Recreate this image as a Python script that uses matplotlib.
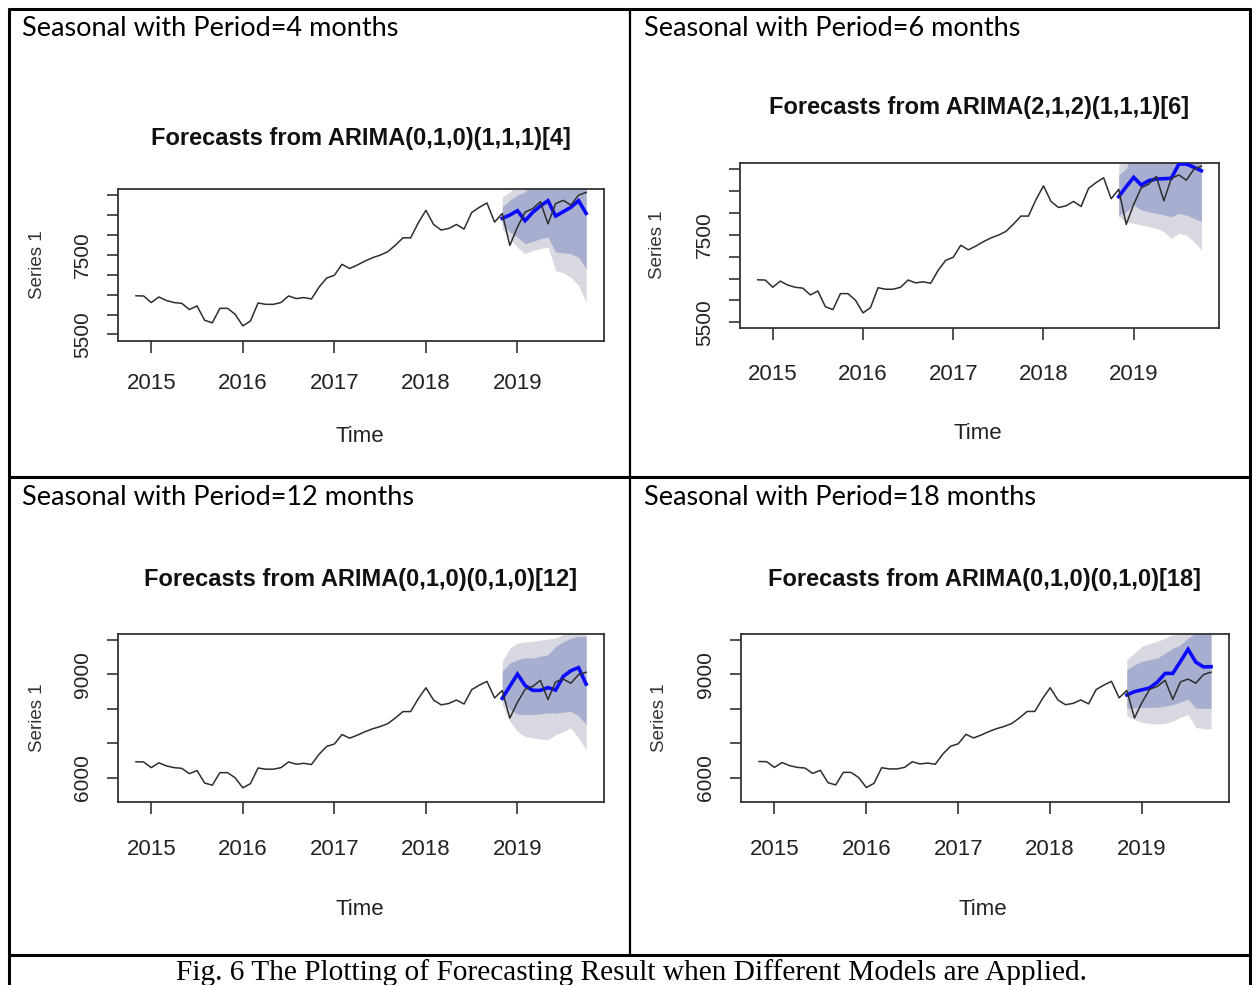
import numpy as np
import matplotlib.pyplot as plt
from matplotlib.lines import Line2D

W, H = 1252, 985

# Monthly series, Nov 2014 - Oct 2019 (last 12 months are the hold-out period)
sales = [6470, 6465, 6300, 6440, 6350, 6300, 6280, 6125, 6215, 5855, 5790, 6155,
         6155, 6005, 5715, 5835, 6290, 6255, 6255, 6300, 6465, 6400, 6425, 6390,
         6690, 6915, 6985, 7260, 7155, 7240, 7340, 7425, 7490, 7575, 7740, 7925,
         7925, 8300, 8615, 8260, 8120, 8160, 8260, 8145, 8560, 8690, 8800, 8320,
         8535, 7735, 8195, 8570, 8655, 8830, 8275, 8785, 8865, 8745, 8995, 9065]
start_year, start_month = 2014, 11
n_train = 48

# ARIMA(0,1,0)(1,1,1)[4]
fc_4 = [8413, 8496, 8606, 8354, 8563, 8723, 8857, 8471, 8580, 8690, 8857, 8538]
lo80_4 = [8280, 8070, 7940, 7775, 7835, 7900, 7943, 7566, 7549, 7523, 7439, 7146]
hi80_4 = [8700, 8870, 9000, 9080, 9300, 9450, 9650, 9400, 9600, 9850, 10200, 9950]
lo95_4 = [8150, 7900, 7690, 7525, 7610, 7650, 7692, 7104, 7045, 6936, 6727, 6306]
hi95_4 = [8950, 9080, 9250, 9300, 9500, 9800, 10000, 9850, 10100, 10400, 10900, 10800]

# ARIMA(2,1,2)(1,1,1)[6]
fc_6 = [8368, 8596, 8810, 8635, 8733, 8772, 8779, 8788, 9114, 9114, 9039, 8961]
lo80_6 = [7950, 8025, 8178, 8064, 8025, 7989, 7950, 7911, 7989, 7950, 7874, 7797]
hi80_6 = [8862, 9016, 9400, 9300, 9400, 9500, 9550, 9600, 9900, 9950, 10000, 10050]
lo95_6 = [7911, 7797, 7760, 7721, 7683, 7646, 7569, 7416, 7532, 7493, 7340, 7151]
hi95_6 = [9091, 9300, 9700, 9600, 9750, 9850, 9950, 10100, 10300, 10400, 10500, 10600]

# ARIMA(0,1,0)(0,1,0)[12]
fc_12 = [8310, 8660, 9012, 8680, 8540, 8540, 8620, 8548, 8945, 9110, 9200, 8720]
lo80_12 = [8271, 7981, 7850, 7836, 7836, 7860, 7884, 7884, 7910, 7933, 7800, 7546]
hi80_12 = [9093, 9334, 9431, 9480, 9480, 9530, 9575, 9817, 9950, 10060, 10107, 10107]
lo95_12 = [8126, 7643, 7350, 7200, 7160, 7130, 7111, 7256, 7350, 7450, 7160, 6821]
hi95_12 = [9383, 9768, 9913, 9940, 9962, 10000, 10030, 10058, 10154, 10250, 10300, 10400]

# ARIMA(0,1,0)(0,1,0)[18]
fc_18 = [8405, 8500, 8555, 8610, 8780, 9030, 9030, 9375, 9730, 9360, 9220, 9225]
lo80_18 = [8020, 8030, 8040, 8045, 8050, 8080, 8120, 8200, 8280, 8020, 8015, 8015]
hi80_18 = [9140, 9280, 9380, 9430, 9480, 9620, 9760, 9860, 10060, 10200, 10300, 10350]
lo95_18 = [7800, 7690, 7610, 7570, 7560, 7580, 7640, 7760, 7830, 7460, 7420, 7420]
hi95_18 = [9430, 9620, 9820, 9900, 9960, 10060, 10150, 10250, 10400, 10500, 10550, 10600]

year_ticks = [2015, 2016, 2017, 2018, 2019]
year_labels = ["2015", "2016", "2017", "2018", "2019"]
yticks_a = [5500, 6000, 6500, 7000, 7500, 8000, 8500, 9000]
ylabels_a = ["5500", "", "", "", "7500", "", "", ""]
yticks_b = [6000, 7000, 8000, 9000, 10000]
ylabels_b = ["6000", "", "", "9000", ""]

headers = ["Seasonal with Period=4 months", "Seasonal with Period=6 months",
           "Seasonal with Period=12 months", "Seasonal with Period=18 months"]
titles = ["Forecasts from ARIMA(0,1,0)(1,1,1)[4]",
          "Forecasts from ARIMA(2,1,2)(1,1,1)[6]",
          "Forecasts from ARIMA(0,1,0)(0,1,0)[12]",
          "Forecasts from ARIMA(0,1,0)(0,1,0)[18]"]
caption = "Fig. 6 The Plotting of Forecasting Result when Different Models are Applied."

t = start_year + (start_month - 1 + np.arange(len(sales))) / 12.0

C80 = "#A8AECF"
C95 = "#D8D9E0"
R_SANS = ["Liberation Sans"]

fig = plt.figure(figsize=(W / 100, H / 100), dpi=100)
fig.patch.set_facecolor("white")


def fx(px):
    return px / W


def fy(py):
    return 1 - py / H


def pt(px):
    return px * 0.72


def panel(box, ylim, yticks, ylabels, fc, lo80, hi80, lo95, hi95, title,
          title_xy, time_xy, series_xy, xpad):
    l, tp, r, b = box
    ax = fig.add_axes([fx(l), fy(b), (r - l) / W, (b - tp) / H])
    tf = t[n_train:]
    ax.fill_between(tf, lo95, hi95, color=C95, lw=0, zorder=1)
    ax.fill_between(tf, lo80, hi80, color=C80, lw=0, zorder=2)
    ax.plot(tf, fc, color="#0a0aff", lw=2.6, zorder=3, solid_joinstyle="miter")
    ax.plot(t, sales, color="#2e2e2e", lw=1.1, zorder=4)
    ax.set_xlim(2014.637, 2019.945)
    ax.set_ylim(*ylim)
    for s in ax.spines.values():
        s.set_color("#333333")
        s.set_linewidth(1.3)
    ax.set_xticks(year_ticks, year_labels, fontsize=16, family=R_SANS,
                  color="#222222")
    ax.set_yticks(yticks, ylabels, fontsize=15, family=R_SANS, rotation=90,
                  va="center", color="#222222")
    ax.tick_params(axis="x", length=pt(12), width=1.2, color="#333333",
                   pad=pt(xpad))
    ax.tick_params(axis="y", length=pt(11), width=1.2, color="#333333",
                   pad=pt(15))
    fig.text(fx(title_xy[0]), fy(title_xy[1]), title, ha="center",
             va="baseline", fontsize=17, fontweight="bold", family=R_SANS,
             color="#111111")
    fig.text(fx(time_xy[0]), fy(time_xy[1]), "Time", ha="center",
             va="baseline", fontsize=16, family=R_SANS, color="#222222")
    fig.text(fx(series_xy[0]), fy(series_xy[1]), "Series 1", ha="center",
             va="center", rotation=90, fontsize=13.5, family=R_SANS,
             color="#333333")
    return ax


panel((118, 189, 604, 341), (5335, 9150), yticks_a, ylabels_a,
      fc_4, lo80_4, hi80_4, lo95_4, hi95_4, titles[0],
      (361, 145), (360, 442), (37, 265), 20)
panel((740, 163, 1219, 328), (5370, 9137), yticks_a, ylabels_a,
      fc_6, lo80_6, hi80_6, lo95_6, hi95_6, titles[1],
      (979, 114), (978, 439), (658, 245), 24)
panel((118, 634, 604, 802), (5304, 10174), yticks_b, ylabels_b,
      fc_12, lo80_12, hi80_12, lo95_12, hi95_12, titles[2],
      (361, 586), (360, 915), (37, 718), 25)
panel((741, 634, 1229, 802), (5294, 10175), yticks_b, ylabels_b,
      fc_18, lo80_18, hi80_18, lo95_18, hi95_18, titles[3],
      (984, 586), (983, 915), (660, 718), 25)

# cell headers
fig.text(fx(22), fy(36), headers[0], family="Lato", fontsize=19.5, va="baseline")
fig.text(fx(644), fy(36), headers[1], family="Lato", fontsize=19.5, va="baseline")
fig.text(fx(22), fy(505), headers[2], family="Lato", fontsize=19.5, va="baseline")
fig.text(fx(644), fy(505), headers[3], family="Lato", fontsize=19.5, va="baseline")

# caption row
fig.text(fx(631), fy(980), caption, family="Liberation Serif", fontsize=21.2,
         ha="center", va="baseline")

# table borders
def hline(y, x0, x1, lw=2.2):
    fig.add_artist(Line2D([fx(x0), fx(x1)], [fy(y), fy(y)], color="black",
                          lw=lw, solid_capstyle="butt"))


def vline(x, y0, y1, lw=2.2):
    fig.add_artist(Line2D([fx(x), fx(x)], [fy(y0), fy(y1)], color="black",
                          lw=lw, solid_capstyle="butt"))


hline(8.5, 8, 1251)
hline(477, 8, 1251)
hline(955, 8, 1251)
vline(9, 8, 985)
vline(1250, 8, 985)
vline(630, 8, 955, lw=1.6)

fig.savefig("out.png", dpi=100, facecolor="white")
